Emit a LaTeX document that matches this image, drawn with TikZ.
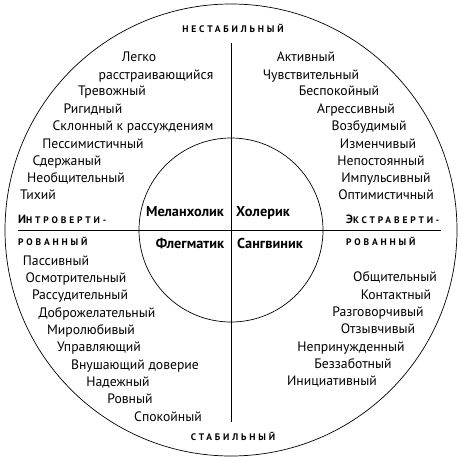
\documentclass[tikz,border=0pt]{standalone}
\usepackage{fontspec}
\setmainfont{PT Sans}
\begin{document}
\begin{tikzpicture}[x=1pt,y=-1pt,
  trait/.style={font=\fontsize{13.7}{15}\selectfont, inner sep=0pt, text height=9pt, text depth=3pt},
  typ/.style={font=\fontsize{14.3}{16}\selectfont\bfseries, inner sep=0pt, text height=9pt, text depth=3pt},
  axis/.style={font=\fontsize{9.5}{11}\selectfont\bfseries\addfontfeature{LetterSpace=30}, inner sep=0pt, text height=7pt, text depth=2pt},
  ln/.style={line width=0.7pt}]
\useasboundingbox (0,0) rectangle (462,461);
\coordinate (c) at (231,230);
\draw[ln] (c) circle[radius=226];
\draw[ln] (c) circle[radius=92];
\coordinate (hl) at (18,230);
\coordinate (hr) at (441,230);
\coordinate (vt) at (231,43);
\coordinate (vb) at (231,422);
\draw[ln] (hl) -- (hr);
\draw[ln] (vt) -- (vb);
% axis titles
\node[axis] (nest) at (233,30) {НЕСТАБИЛЬНЫЙ};
\node[axis] (stab) at (233,438) {СТАБИЛЬНЫЙ};
\node[axis, anchor=west] (intro1) at (18,221) {{\fontsize{12}{13}\selectfont И}НТРОВЕРТИ-};
\node[axis, anchor=west] (intro2) at (18,243) {РОВАННЫЙ};
\node[axis, anchor=west] (extra1) at (346,221) {{\fontsize{12}{13}\selectfont Э}КСТРАВЕРТИ-};
\node[axis, anchor=west] (extra2) at (346,243) {РОВАННЫЙ};
% types
\node[typ] (mel) at (185,213) {Меланхолик};
\node[typ] (hol) at (263,213) {Холерик};
\node[typ] (fle) at (190,245) {Флегматик};
\node[typ] (san) at (270,245) {Сангвиник};
% top-left
\node[trait] (a1) at (139,58) {Легко};
\node[trait] (a2) at (156,76) {расстраивающийся};
\node[trait] (a3) at (112,92) {Тревожный};
\node[trait] (a4) at (93,110) {Ригидный};
\node[trait] (a5) at (133,127) {Склонный к рассуждениям};
\node[trait] (a6) at (93,145) {Пессимистичный};
\node[trait] (a7) at (67,162) {Сдержаный};
\node[trait] (a8) at (76,179) {Необщительный};
\node[trait] (a9) at (38,196) {Тихий};
% top-right
\node[trait] (b1) at (306,58) {Активный};
\node[trait] (b2) at (311,76) {Чувствительный};
\node[trait] (b3) at (339,92) {Беспокойный};
\node[trait] (b4) at (356,110) {Агрессивный};
\node[trait] (b5) at (369,127) {Возбудимый};
\node[trait] (b6) at (378,145) {Изменчивый};
\node[trait] (b7) at (381,162) {Непостоянный};
\node[trait] (b8) at (386,179) {Импульсивный};
\node[trait] (b9) at (386,196) {Оптимистичный};
% bottom-left
\node[trait] (c1) at (56,262) {Пассивный};
\node[trait] (c2) at (76,279) {Осмотрительный};
\node[trait] (c3) at (80,296) {Рассудительный};
\node[trait] (c4) at (97,314) {Доброжелательный};
\node[trait] (c5) at (91,331) {Миролюбивый};
\node[trait] (c6) at (99,348) {Управляющий};
\node[trait] (c7) at (135,366) {Внушающий доверие};
\node[trait] (c8) at (118,383) {Надежный};
\node[trait] (c9) at (130,400) {Ровный};
\node[trait] (c10) at (168,418) {Спокойный};
% bottom-right
\node[trait] (d1) at (395,278) {Общительный};
\node[trait] (d2) at (396,296) {Контактный};
\node[trait] (d3) at (378,313) {Разговорчивый};
\node[trait] (d4) at (378,330) {Отзывчивый};
\node[trait] (d5) at (351,348) {Непринужденный};
\node[trait] (d6) at (353,365) {Беззаботный};
\node[trait] (d7) at (332,382) {Инициативный};
\end{tikzpicture}
\end{document}
